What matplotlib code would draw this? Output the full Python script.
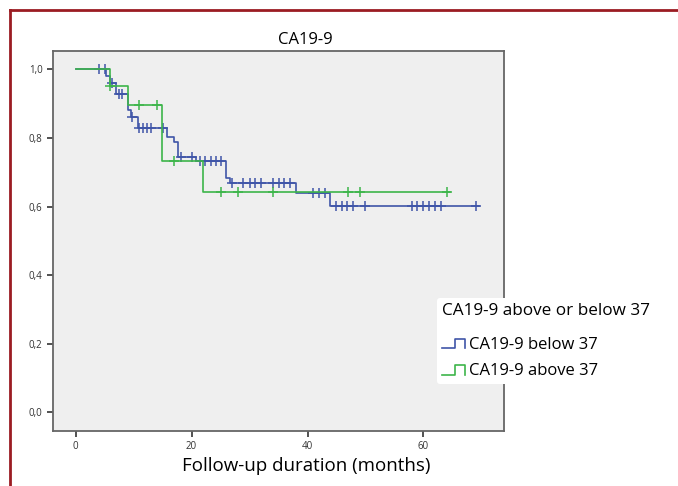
import numpy as np
import matplotlib
matplotlib.use("Agg")
import matplotlib.pyplot as plt
from matplotlib.legend_handler import HandlerBase
from matplotlib.lines import Line2D

# Kaplan-Meier steps (months, survival after the step)
below_times = [0, 5.2, 5.9, 7.0, 9.0, 9.6, 10.7, 15.7, 16.9, 17.7, 20.7, 25.9, 26.6, 38.0, 43.9]
below_surv = [1.0, 0.980, 0.962, 0.928, 0.882, 0.862, 0.828, 0.804, 0.789, 0.745, 0.732, 0.682, 0.668, 0.640, 0.601]
below_censor = [4.1, 5.0, 6.3, 7.4, 8.0, 9.7, 10.9, 11.7, 12.3, 13.0, 15.0, 18.2, 20.0, 21.5, 22.4,
                23.3, 24.2, 25.1, 26.9, 28.9, 30.0, 30.9, 31.9, 34.1, 35.1, 36.0, 36.9, 41.0, 42.0,
                43.0, 45.0, 45.9, 46.8, 47.9, 50.0, 58.1, 58.9, 60.0, 61.0, 62.0, 63.0, 69.1]
below_end = 69.6

above_times = [0, 6.0, 9.1, 14.9, 22.0]
above_surv = [1.0, 0.953, 0.896, 0.734, 0.641]
above_censor = [6.0, 11.0, 14.1, 17.0, 25.0, 28.0, 34.0, 47.0, 49.0, 64.1]
above_end = 64.6

labels = ['CA19-9 below 37', 'CA19-9 above 37']
colors = ['#3f55a8', '#3db54a']

xticks = [0, 20, 40, 60]
yticks = [0.0, 0.2, 0.4, 0.6, 0.8, 1.0]


class StepHandler(HandlerBase):
    def create_artists(self, legend, orig_handle, xdescent, ydescent, width, height, fontsize, trans):
        xs = np.array([0, 0.55, 0.55, 1.0, 1.0]) * width - xdescent
        ys = np.array([0.05, 0.05, 0.85, 0.85, 0.05]) * height - ydescent
        ln = Line2D(xs, ys, color=orig_handle.get_color(), lw=1.2, transform=trans)
        return [ln]


def km_draw(ax, times, surv, censor, end, color):
    xs = list(times) + [end]
    ys = list(surv) + [surv[-1]]
    ax.step(xs, ys, where='post', color=color, lw=1.2)
    idx = np.searchsorted(times, censor, side='right') - 1
    cy = np.array(surv)[idx]
    ax.plot(censor, cy, '+', color=color, ms=7, mew=1.1, ls='none')


plt.rcParams['font.family'] = ['Open Sans', 'DejaVu Sans']

fig = plt.figure(figsize=(6.78, 4.86), dpi=100)
ax = fig.add_axes([0.0782, 0.1132, 0.6652, 0.7819])
ax.set_facecolor('#efefef')

km_draw(ax, below_times, below_surv, below_censor, below_end, colors[0])
km_draw(ax, above_times, above_surv, above_censor, above_end, colors[1])

ax.set_xlim(-3.9, 73.9)
ax.set_ylim(-0.055, 1.054)
ax.set_xticks(xticks)
ax.set_xticklabels([str(t) for t in xticks])
ax.set_yticks(yticks)
ax.set_yticklabels([('%.1f' % v).replace('.', ',') for v in yticks])
ax.tick_params(labelsize=7, colors='#333333', length=4, width=1.2)
for s in ax.spines.values():
    s.set_color('#666666')
    s.set_linewidth(1.3)

fig.text(305 / 678, 1 - 40 / 486, 'CA19-9', ha='center', va='center', fontsize=12)
fig.text(306 / 678, 1 - 466 / 486, 'Follow-up duration (months)', ha='center', va='center', fontsize=13.5)

handles = [Line2D([], [], color=c) for c in colors]
leg = fig.legend(handles, labels, title='CA19-9 above or below 37', loc='upper left',
                 bbox_to_anchor=(437 / 678, 1 - 298 / 486), frameon=True, fontsize=12,
                 title_fontsize=12.3, handler_map={Line2D: StepHandler()},
                 handlelength=1.4, handletextpad=0.2, labelspacing=0.62, borderpad=0.3,
                 borderaxespad=0)
leg.get_frame().set_edgecolor('none')
leg.get_frame().set_facecolor('white')
leg.get_frame().set_alpha(1)
leg._legend_box.align = 'left'
leg._legend_box.sep = 13

# dark red frame lines at the top and left
fig.add_artist(Line2D([10 / 678, 1], [1 - 10 / 486, 1 - 10 / 486], color='#9b1c22', lw=2, transform=fig.transFigure))
fig.add_artist(Line2D([10 / 678, 10 / 678], [0, 1 - 10 / 486], color='#9b1c22', lw=2, transform=fig.transFigure))

fig.savefig('out.png', dpi=100)
